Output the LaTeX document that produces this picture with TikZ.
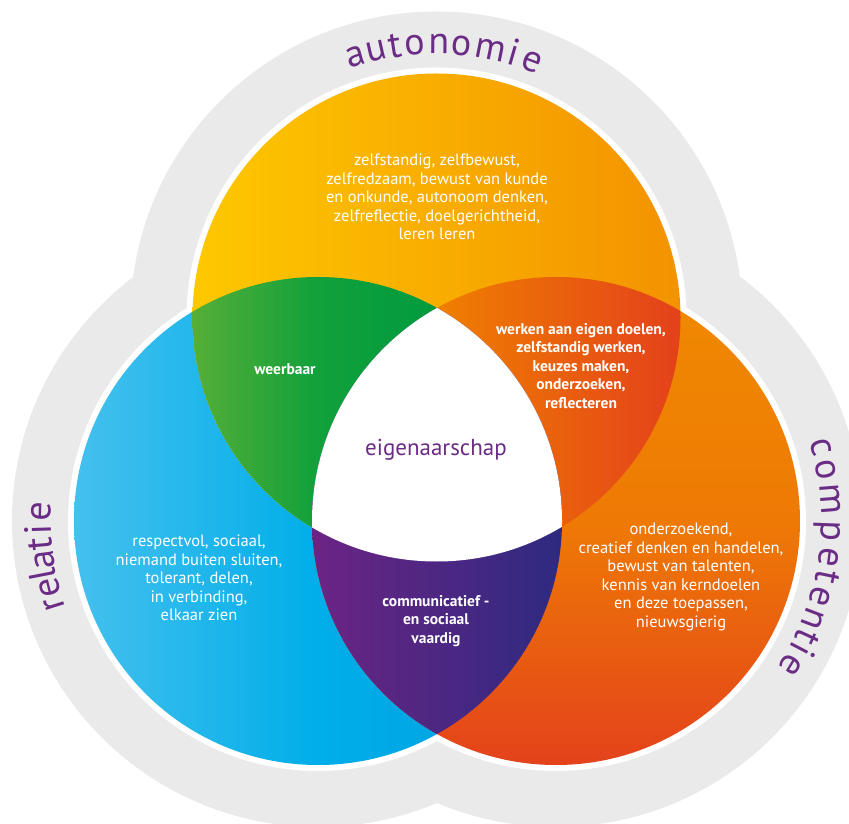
\documentclass[tikz,border=0pt]{standalone}
\usepackage{fontspec}
\setmainfont{PT Sans}
\newfontfamily\labelfont{PT Sans}
\definecolor{bandgray}{HTML}{EAEAEA}
\definecolor{lblpurple}{HTML}{6B2C86}
\definecolor{yelL}{HTML}{FEC800}
\definecolor{yelR}{HTML}{F39200}
\definecolor{bluL}{HTML}{45C0EE}
\definecolor{bluM}{HTML}{00AEE9}
\definecolor{bluR}{HTML}{009EE0}
\definecolor{oraT}{HTML}{F08A00}
\definecolor{oraM}{HTML}{EE7A05}
\definecolor{oraB}{HTML}{E4421B}
\definecolor{grnL}{HTML}{56AE37}
\definecolor{grnM}{HTML}{12A13B}
\definecolor{grnR}{HTML}{009B3E}
\definecolor{redL}{HTML}{EF7F00}
\definecolor{redR}{HTML}{E4411B}
\definecolor{purL}{HTML}{6C2484}
\definecolor{purR}{HTML}{2E2A80}
\tikzset{
  curvlbl/.style={text=lblpurple, font=\labelfont\fontsize{38}{38}\selectfont, inner sep=0pt, anchor=base},
  body/.style={text=white, align=center, inner sep=0pt, font=\fontsize{16.5}{18.5}\selectfont},
  bodyb/.style={text=white, align=center, inner sep=0pt, font=\bfseries\fontsize{15.5}{18.5}\selectfont},
  centertext/.style={text=lblpurple, inner sep=0pt, font=\fontsize{23}{26}\selectfont}
}
\begin{document}
\begin{tikzpicture}[x=1pt,y=1pt]
\useasboundingbox (0,0) rectangle (849,823);
\clip (0,0) rectangle (849,823);
\coordinate (T) at (436.5,505.5);
\coordinate (L) at (318,302);
\coordinate (R) at (556,302);
% grey band and white gap
\fill[bandgray] (T) circle (306pt) (L) circle (306pt) (R) circle (306pt);
\fill[white] (T) circle (250pt) (L) circle (250pt) (R) circle (250pt);
% blue circle
\begin{scope}
  \clip (L) circle (244pt);
  \shade[left color=bluL, right color=bluR, middle color=bluM] (74,58) rectangle (562,546);
\end{scope}
% orange circle
\begin{scope}
  \clip (R) circle (244pt);
  \shade[top color=oraT, bottom color=oraB, middle color=oraM] (312,58) rectangle (800,546);
\end{scope}
% yellow circle
\begin{scope}
  \clip (T) circle (244pt);
  \shade[left color=yelL, right color=yelR] (192,261) rectangle (681,750);
\end{scope}
% green
\begin{scope}
  \clip (T) circle (244pt);
  \clip (L) circle (244pt);
  \shade[left color=grnL, right color=grnR, middle color=grnM] (192,261) rectangle (437,546);
\end{scope}
% red-orange
\begin{scope}
  \clip (T) circle (244pt);
  \clip (R) circle (244pt);
  \shade[left color=redL, right color=redR] (437,261) rectangle (681,546);
\end{scope}
% purple
\begin{scope}
  \clip (L) circle (244pt);
  \clip (R) circle (244pt);
  \shade[left color=purL, right color=purR] (312,58) rectangle (562,520);
\end{scope}
% white centre
\begin{scope}
  \clip (L) circle (244pt);
  \clip (R) circle (244pt);
  \fill[white] (T) circle (244pt);
\end{scope}
% curved labels
\foreach \ch/\a [count=\k] in {a/107.2, u/102.7, t/98.7, o/94.5, n/89.5, o/84.8, m/78.7, i/73.8, e/69.5}
  \path (T) ++(\a:263.5pt) node[curvlbl, rotate=\a-90] (au\k) {\ch};
\foreach \ch/\a [count=\k] in {r/197.4, e/193.9, l/191.0, a/188.1, t/184.7, i/181.8, e/178.1}
  \path (L) ++(\a:267pt) node[curvlbl, rotate=\a-90] (re\k) {\ch};
\foreach \ch/\a [count=\k] in {c/15.5, o/10.8, m/4.5, p/-2.1, e/-7.5, t/-11.7, e/-16.0, n/-20.8, t/-24.9, i/-27.6, e/-31.4}
  \path (R) ++(\a:265.5pt) node[curvlbl, rotate=\a-90] (co\k) {\ch};
% texts
\node[body] (tauto) at (437,626) {zelfstandig, zelfbewust,\\zelfredzaam, bewust van kunde\\en onkunde, autonoom denken,\\zelfreflectie, doelgerichtheid,\\leren leren};
\node[bodyb] (tweer) at (285,454) {weerbaar};
\node[bodyb] (twerk) at (581,457) {werken aan eigen doelen,\\zelfstandig werken,\\keuzes maken,\\onderzoeken,\\reflecteren};
\node[centertext] (teigen) at (436,373) {eigenaarschap};
\node[body] (trel) at (199,245) {respectvol, sociaal,\\niemand buiten sluiten,\\tolerant, delen,\\in verbinding,\\elkaar zien};
\node[body] (tcomp) at (681,246) {onderzoekend,\\creatief denken en handelen,\\bewust van talenten,\\kennis van kerndoelen\\en deze toepassen,\\nieuwsgierig};
\node[bodyb] (tcomm) at (436,202) {communicatief -\\en sociaal\\vaardig};
\end{tikzpicture}
\end{document}
